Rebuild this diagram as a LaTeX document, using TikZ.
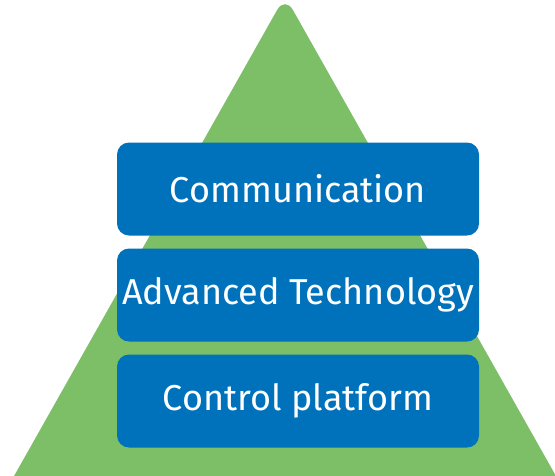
\documentclass[tikz,border=0pt]{standalone}
\usepackage{fontspec}
\setsansfont{Fira Sans}
\usepackage{tikz}
\definecolor{pyrgreen}{RGB}{124,191,102}
\definecolor{layerblue}{RGB}{0,114,187}

\begin{document}
\begin{tikzpicture}[
    x=0.75pt, y=-0.75pt,
    layer/.style={rectangle, rounded corners=9pt, fill=layerblue, text=white,
        minimum width=362*0.75pt, minimum height=93*0.75pt, inner sep=0pt,
        font=\sffamily\fontsize{27}{30}\selectfont}
]
\useasboundingbox (0,0) rectangle (555,475);
\clip (0,0) rectangle (555,475);
% green pyramid behind the layers
\fill[pyrgreen, rounded corners=12pt] (285,-4) -- (565,492) -- (5,492) -- cycle;
% the three layers
\node[layer] (comm) at (298,189) {Communication};
\node[layer] (adv) at (298,295) {Advanced Technology};
\node[layer] (ctrl) at (298,401) {Control platform};
\end{tikzpicture}
\end{document}
